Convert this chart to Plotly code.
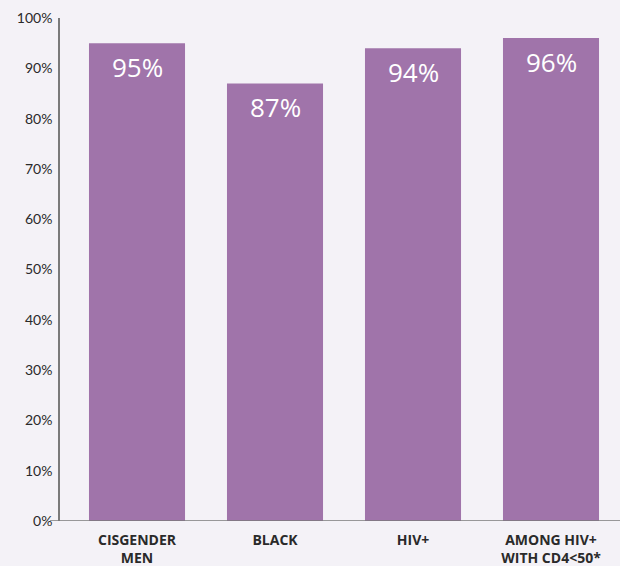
import plotly.graph_objects as go

categories = ["CISGENDER<br>MEN", "BLACK", "HIV+", "AMONG HIV+<br>WITH CD4<50*"]
values = [95, 87, 94, 96]
labels = ["95%", "87%", "94%", "96%"]
tick_vals = [0, 10, 20, 30, 40, 50, 60, 70, 80, 90, 100]
tick_text = ["0%", "10%", "20%", "30%", "40%", "50%", "60%", "70%", "80%", "90%", "100%"]

BG = "#f4f2f7"
BAR = "#a074aa"
FONT = "Open Sans, sans-serif"

fig = go.Figure()
fig.add_trace(go.Bar(x=categories, y=values, marker_color=BAR, marker_line_width=0,
                     hoverinfo="skip"))

for c, v, t in zip(categories, values, labels):
    fig.add_annotation(x=c, y=v, text=t, showarrow=False, yanchor="top", yshift=-4,
                       font=dict(family=FONT, size=26, color="white"))

fig.add_shape(type="line", xref="paper", yref="y", x0=-10/560, x1=1, y0=0, y1=0,
              line=dict(color="#7a7a7a", width=1.5))

fig.update_layout(
    width=620, height=566,
    margin=dict(l=60, r=0, t=18, b=45),
    paper_bgcolor=BG, plot_bgcolor=BG,
    bargap=0.304,
    showlegend=False,
    font=dict(family=FONT, color="#2a2a2a"),
)
fig.update_xaxes(range=[-0.558, 3.5], showgrid=False, showline=False, zeroline=False,
                 tickfont=dict(size=14, color="#2a2a2a", family=FONT, weight="bold"),
                 ticks="", ticklabelstandoff=9)
fig.update_yaxes(range=[0, 100], tickvals=tick_vals, ticktext=tick_text, showgrid=False,
                 showline=True, linecolor="#7a7a7a", linewidth=1.5, zeroline=False,
                 ticks="", ticklabelstandoff=3,
                 tickfont=dict(size=14, color="#2a2a2a", family="Lato, sans-serif"))

fig.write_html("out.html", config={"displayModeBar": False},
               post_script="document.body.style.margin='0';document.body.style.background='%s';" % BG)
